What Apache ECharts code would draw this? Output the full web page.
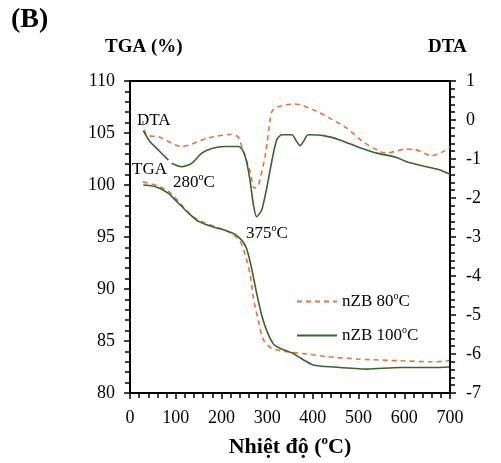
<!DOCTYPE html>
<html>
<head>
<meta charset="utf-8">
<script src="https://cdn.jsdelivr.net/npm/echarts@6/dist/echarts.min.js"></script>
<style>
  html, body { margin: 0; padding: 0; background: #fff; }
  #chart { width: 501px; height: 463px; }
</style>
</head>
<body>
<div id="chart"></div>
<script>
// Thermal analysis of nZB samples: TGA (left axis, %) and DTA (right axis)
const seriesNames = ['nZB 80', 'nZB 100'];

// TGA, nZB dried at 80 °C
const tga80Temp = [28, 55, 84, 113, 135, 157, 186, 222, 241, 252, 263, 270, 281, 292, 310, 339, 387, 430, 503, 591, 664, 698];
const tga80Val  = [100.3, 100.0, 99.4, 98.1, 97.0, 96.5, 96.0, 95.35, 94.55, 93.3, 91.35, 89.1, 86.9, 85.1, 84.3, 84.0, 83.75, 83.5, 83.25, 83.1, 83.0, 83.1];

// TGA, nZB dried at 100 °C
const tga100Temp = [29, 55, 84, 106, 128, 150, 179, 208, 230, 244, 255, 266, 277, 288, 299, 314, 328, 357, 379, 401, 445, 518, 591, 664, 698];
const tga100Val  = [100.0, 99.85, 99.2, 98.25, 97.3, 96.5, 96.0, 95.65, 95.25, 94.7, 93.9, 92.0, 89.6, 87.5, 86.0, 84.7, 84.3, 83.8, 83.2, 82.7, 82.5, 82.3, 82.45, 82.45, 82.5];

// DTA, nZB dried at 80 °C
const dta80Temp = [28, 36, 62, 113, 171, 222, 236, 247, 263, 272, 281, 296, 310, 324, 361, 401, 438, 474, 510, 547, 562, 600, 620, 660, 685, 700];
const dta80Val  = [-0.02, -0.38, -0.43, -0.68, -0.46, -0.37, -0.43, -0.77, -1.33, -1.75, -1.67, -0.9, 0.21, 0.34, 0.41, 0.26, 0.04, -0.21, -0.56, -0.81, -0.85, -0.75, -0.75, -0.92, -0.81, -0.68];

// DTA, nZB dried at 100 °C (null = break in the trace)
const dta100Temp = [29, 44, 62, 84, 87, 91, 113, 135, 157, 179, 208, 237, 248, 255, 263, 270, 277, 288, 299, 310, 321, 332, 354, 365, 372, 379, 390, 423, 459, 496, 518, 540, 583, 605, 649, 678, 700];
const dta100Val  = [-0.27, -0.56, -0.77, -1.03, null, -1.11, -1.2, -1.11, -0.85, -0.73, -0.68, -0.68, -0.81, -1.07, -1.58, -2.18, -2.48, -2.31, -1.75, -1.07, -0.51, -0.38, -0.38, -0.56, -0.66, -0.56, -0.38, -0.40, -0.51, -0.68, -0.77, -0.85, -0.96, -1.07, -1.2, -1.28, -1.39];

// Axis ranges
const xRange = { min: 0, max: 700, interval: 100 };
const tgaRange = { min: 80, max: 110, interval: 5 };
const dtaRange = { min: -7, max: 1, interval: 1 };

const FONT = 'Liberation Serif';
const ORANGE = '#E4743A';
const GREEN = '#3d6230';

const zip = (xs, ys) => xs.map((x, i) => [x, ys[i]]);

// rich-text styles: normal text plus a raised small "o" for the degree mark
function richStyles(size, weight) {
  return {
    n: { fontFamily: FONT, fontSize: size, fontWeight: weight, lineHeight: size + 4, color: '#000' },
    s: { fontFamily: FONT, fontSize: Math.round(size * 0.6), fontWeight: weight, lineHeight: Math.round(size * 0.6), verticalAlign: 'top', color: '#000' }
  };
}
const degC = (prefix, suffix) => `{n|${prefix}}{s|o}{n|C${suffix || ''}}`;

const chart = echarts.init(document.getElementById('chart'), null, { renderer: 'canvas' });

const axisCommon = {
  axisLine: { show: true, onZero: false, lineStyle: { color: '#000', width: 2 } },
  axisTick: { show: true, length: 6, lineStyle: { color: '#000', width: 1.5 } },
  minorTick: { show: true, splitNumber: 5, length: 5, lineStyle: { color: '#000', width: 1.5 } },
  splitLine: { show: false },
  axisLabel: { color: '#000', fontFamily: FONT, fontSize: 18 }
};

const lineCommon = { type: 'line', symbol: 'none', smooth: 0.25, connectNulls: false };

chart.setOption({
  animation: false,
  backgroundColor: '#fff',
  grid: { left: 130, right: 51, top: 81, bottom: 70, show: true, borderColor: '#000', borderWidth: 2, backgroundColor: 'transparent' },
  xAxis: Object.assign({}, axisCommon, {
    type: 'value', min: xRange.min, max: xRange.max, interval: xRange.interval,
    axisLabel: Object.assign({}, axisCommon.axisLabel, { margin: 16 }),
    name: degC('Nhiệt độ (', ')'), nameLocation: 'middle', nameGap: 41,
    nameTextStyle: { rich: richStyles(22, 'bold') }
  }),
  yAxis: [
    Object.assign({}, axisCommon, {
      type: 'value', position: 'left', min: tgaRange.min, max: tgaRange.max, interval: tgaRange.interval,
      axisLabel: Object.assign({}, axisCommon.axisLabel, { margin: 15 })
    }),
    Object.assign({}, axisCommon, {
      type: 'value', position: 'right', min: dtaRange.min, max: dtaRange.max, interval: dtaRange.interval,
      axisLabel: Object.assign({}, axisCommon.axisLabel, { margin: 16 })
    })
  ],
  legend: {
    left: 296, top: 291, orient: 'vertical', padding: 0, itemWidth: 40, itemHeight: 14, itemGap: 15,
    data: seriesNames,
    itemStyle: { opacity: 0 },
    formatter: (name) => degC(name),
    textStyle: { rich: richStyles(17, 'normal') }
  },
  series: [
    Object.assign({}, lineCommon, { name: seriesNames[0], yAxisIndex: 0, data: zip(tga80Temp, tga80Val),
      itemStyle: { color: ORANGE }, lineStyle: { color: ORANGE, width: 1.6, type: [5, 4] } }),
    Object.assign({}, lineCommon, { name: seriesNames[1], yAxisIndex: 0, data: zip(tga100Temp, tga100Val),
      itemStyle: { color: GREEN }, lineStyle: { color: GREEN, width: 1.6, type: 'solid' } }),
    Object.assign({}, lineCommon, { name: seriesNames[0], yAxisIndex: 1, data: zip(dta80Temp, dta80Val),
      itemStyle: { color: ORANGE }, lineStyle: { color: ORANGE, width: 1.6, type: [5, 4] } }),
    Object.assign({}, lineCommon, { name: seriesNames[1], yAxisIndex: 1, data: zip(dta100Temp, dta100Val),
      itemStyle: { color: GREEN }, lineStyle: { color: GREEN, width: 1.6, type: 'solid' } })
  ],
  graphic: [
    { type: 'text', left: 11, top: 6, style: { text: '(B)', fontFamily: FONT, fontSize: 28, fontWeight: 'bold', fill: '#000' } },
    { type: 'text', left: 105, top: 38, style: { text: 'TGA (%)', fontFamily: FONT, fontSize: 19, fontWeight: 'bold', fill: '#000' } },
    { type: 'text', left: 428, top: 38, style: { text: 'DTA', fontFamily: FONT, fontSize: 19, fontWeight: 'bold', fill: '#000' } },
    { type: 'text', left: 137, top: 112, style: { text: 'DTA', fontFamily: FONT, fontSize: 17, fill: '#000' } },
    { type: 'text', left: 132, top: 161, style: { text: 'TGA', fontFamily: FONT, fontSize: 17, fill: '#000' } },
    { type: 'text', left: 173, top: 172, style: { text: degC('280'), rich: richStyles(17, 'normal') } },
    { type: 'text', left: 246, top: 223, style: { text: degC('375'), rich: richStyles(17, 'normal') } }
  ]
});
</script>
</body>
</html>
